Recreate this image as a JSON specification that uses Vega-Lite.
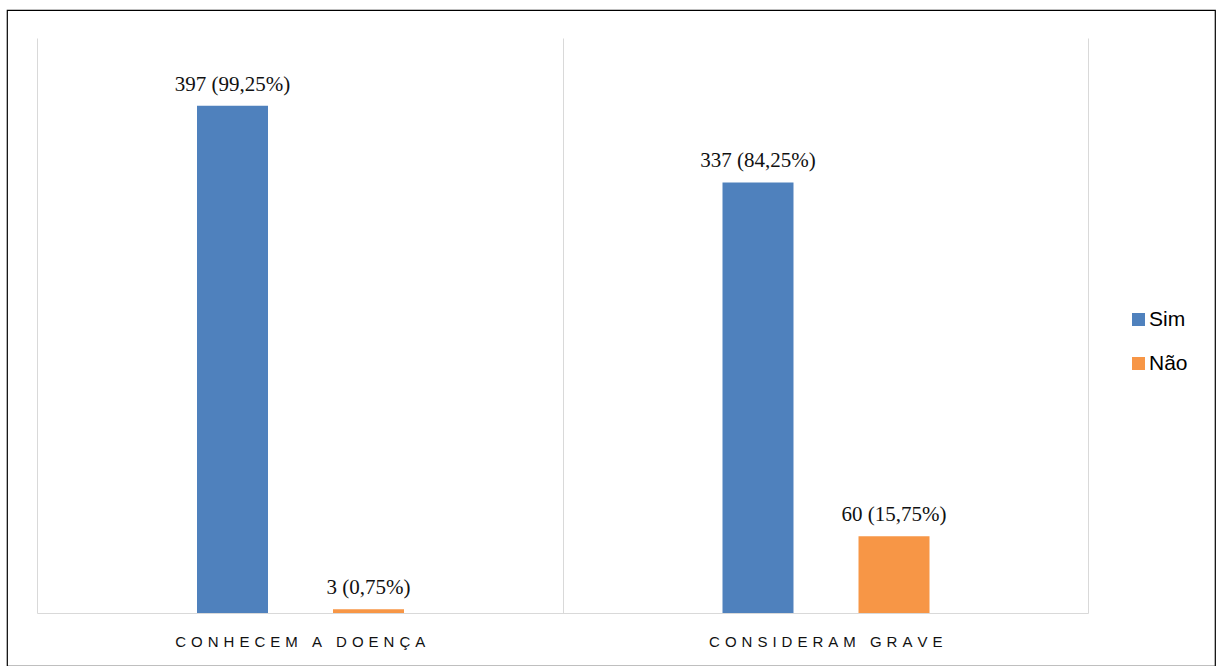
{
  "$schema": "https://vega.github.io/schema/vega-lite/v6.json",
  "width": 1208,
  "height": 656,
  "autosize": {"type": "none"},
  "padding": {"left": 7, "top": 10, "right": 1, "bottom": 0},
  "background": "white",
  "config": {
    "view": {"stroke": "#000000", "strokeWidth": 1.2}
  },
  "data": {
    "values": [
      {"cat": "CONHECEM A DOENÇA", "resp": "Sim", "n": 397, "label": "397 (99,25%)"},
      {"cat": "CONHECEM A DOENÇA", "resp": "Não", "n": 3, "label": "3 (0,75%)"},
      {"cat": "CONSIDERAM GRAVE", "resp": "Sim", "n": 337, "label": "337 (84,25%)"},
      {"cat": "CONSIDERAM GRAVE", "resp": "Não", "n": 60, "label": "60 (15,75%)"}
    ]
  },
  "encoding": {
    "x": {
      "field": "cat", "type": "nominal", "sort": null,
      "scale": {"range": [30, 1081], "paddingInner": 0, "paddingOuter": 0},
      "axis": {
        "title": null, "orient": "top", "offset": -603,
        "domainColor": "#d9d9d9", "domainWidth": 1, "ticks": false,
        "grid": true, "tickBand": "extent", "gridColor": "#d9d9d9", "gridWidth": 1,
        "labelAngle": 0, "labelFont": "Liberation Sans", "labelFontSize": 15,
        "labelColor": "#111111", "labelPadding": -21, "labelBaseline": "top", "labelLimit": 0,
        "labelExpr": "join(split(datum.label, ''), '\u2004')"
      }
    }
  },
  "layer": [
    {
      "mark": {"type": "bar"},
      "encoding": {
        "xOffset": {
          "field": "resp", "type": "nominal", "sort": ["Sim", "Não"],
          "scale": {"range": [160, 367], "paddingInner": 0.478, "paddingOuter": 0}
        },
        "y": {
          "field": "n", "type": "quantitative",
          "scale": {"domain": [0, 450], "range": [603, 28], "nice": false},
          "axis": null
        },
        "color": {
          "field": "resp", "type": "nominal", "sort": ["Sim", "Não"],
          "scale": {"domain": ["Sim", "Não"], "range": ["#4f81bd", "#f79646"]},
          "legend": {
            "title": null, "orient": "none", "legendX": 1121, "legendY": 299,
            "padding": 0, "symbolType": "square", "symbolSize": 169,
            "symbolStrokeWidth": 0, "symbolOpacity": 1,
            "labelFont": "Liberation Sans", "labelFontSize": 21, "labelColor": "#000000",
            "labelOffset": 0, "rowPadding": 22
          }
        }
      }
    },
    {
      "mark": {"type": "text", "baseline": "alphabetic", "dy": -15, "font": "Liberation Serif", "fontSize": 21, "color": "#111111"},
      "encoding": {
        "xOffset": {"field": "resp", "type": "nominal", "sort": ["Sim", "Não"]},
        "y": {"field": "n", "type": "quantitative"},
        "text": {"field": "label"}
      }
    }
  ]
}
